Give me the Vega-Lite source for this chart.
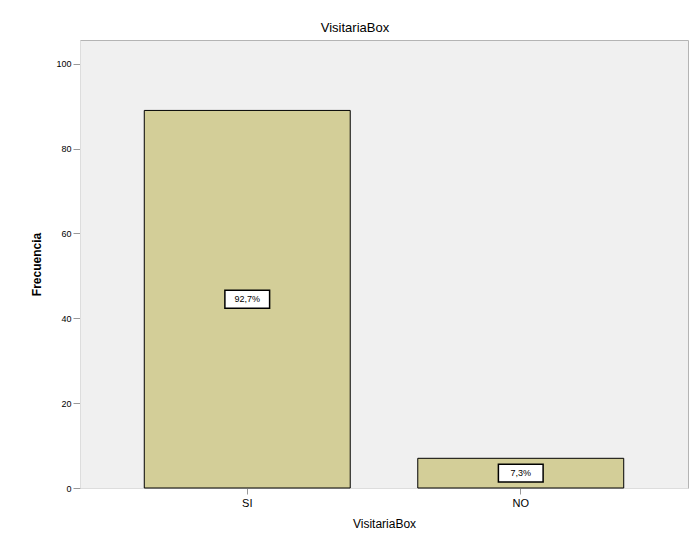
{
  "$schema": "https://vega.github.io/schema/vega-lite/v6.json",
  "width": 608,
  "height": 448,
  "autosize": {"type": "none"},
  "padding": {"left": 80, "top": 40, "right": 1, "bottom": 65},
  "background": "white",
  "title": {"text": "VisitariaBox", "fontSize": 13, "font": "Liberation Sans", "fontWeight": "normal", "color": "#000000", "offset": 5, "dx": -29},
  "config": {
    "view": {"fill": "#f0f0f0", "stroke": "#b4b4b4"},
    "font": "Liberation Sans"
  },
  "data": {"values": [
    {"VisitariaBox": "SI", "Frecuencia": 89, "pct": "92,7%"},
    {"VisitariaBox": "NO", "Frecuencia": 7, "pct": "7,3%"}
  ]},
  "transform": [{"calculate": "datum.Frecuencia / 2", "as": "mid"}],
  "encoding": {
    "x": {
      "field": "VisitariaBox", "type": "nominal", "sort": ["SI", "NO"],
      "scale": {"paddingInner": 0.247, "paddingOuter": 0.235},
      "axis": {"title": "VisitariaBox", "labelAngle": 0, "labelFontSize": 11, "labelColor": "#000", "titleFontSize": 12, "titleFontWeight": "normal", "titleColor": "#000", "tickColor": "#999", "tickSize": 6, "domainColor": "#ddd", "labelPadding": 3, "titlePadding": 10}
    }
  },
  "layer": [
    {
      "mark": {"type": "bar", "fill": "#d3ce98", "stroke": "#000000", "strokeWidth": 1},
      "encoding": {
        "y": {"field": "Frecuencia", "type": "quantitative",
          "scale": {"domain": [0, 105.6], "nice": false},
          "axis": {"title": "Frecuencia", "values": [0, 20, 40, 60, 80, 100], "grid": false, "labelFontSize": 9, "labelColor": "#000", "titleFontSize": 12, "titleFontWeight": "bold", "titleColor": "#000", "tickColor": "#999", "tickSize": 7, "domainColor": "#ddd", "labelPadding": 2, "titlePadding": 12}
        }
      }
    },
    {
      "mark": {"type": "point", "shape": "M-1,-0.4H1V0.4H-1Z", "size": 2000, "filled": true, "fill": "white", "stroke": "#000", "strokeWidth": 1.5, "opacity": 1},
      "encoding": {"y": {"field": "mid", "type": "quantitative"}}
    },
    {
      "mark": {"type": "text", "fontSize": 9, "color": "#000"},
      "encoding": {
        "y": {"field": "mid", "type": "quantitative"},
        "text": {"field": "pct"}
      }
    }
  ]
}
